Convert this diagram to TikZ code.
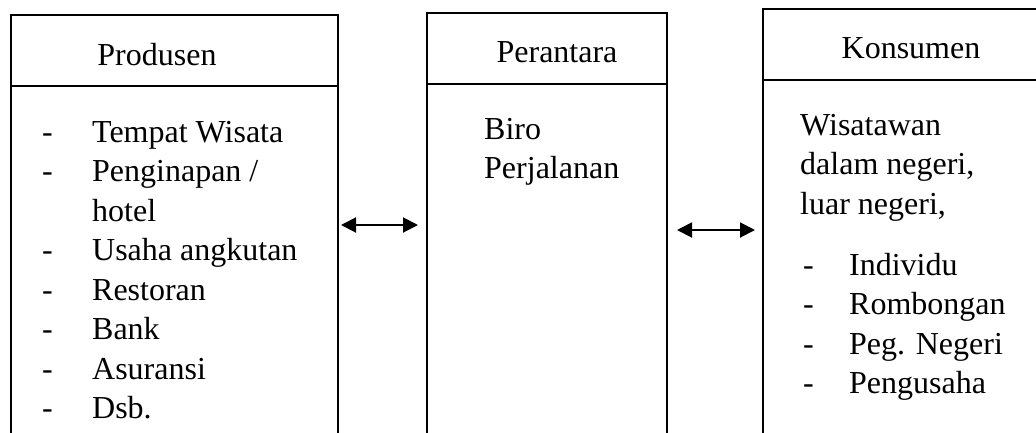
\documentclass[tikz,border=0pt]{standalone}
\usepackage{fontspec}
\setmainfont{Liberation Serif}
\usetikzlibrary{arrows.meta}
\begin{document}
\begin{tikzpicture}[x=1pt,y=-1pt,
  frame/.style={draw, line width=2pt, rectangle, inner sep=0pt, outer sep=0pt,
    minimum height=460pt, anchor=north west},
  headrule/.style={line width=1.3pt},
  bigtext/.style={inner sep=0pt, font=\fontsize{32}{39.5}\selectfont},
  title/.style={bigtext, anchor=base},
  body/.style={bigtext, anchor=base west},
  biarrow/.style={line width=2pt, {Triangle[length=15pt,width=15pt]}-{Triangle[length=15pt,width=15pt]}}]
\useasboundingbox (0,0) rectangle (1036,432);
\clip (0,0) rectangle (1036,432);

% three columns, running past the lower edge
\node[frame, minimum width=327pt] (prod) at (11,15) {};
\node[frame, minimum width=240pt] (peran) at (427,13) {};
\node[frame, minimum width=290pt] (kons) at (763,9) {};

% header separators
\draw[headrule] (prod.north west) ++(0,71) -- ++(327,0);
\draw[headrule] (peran.north west) ++(0,71) -- ++(240,0);
\draw[headrule] (kons.north west) ++(0,71) -- ++(290,0);

% headers
\node[title] (tprod) at (157,65) {Produsen};
\node[title] (tperan) at (557,62) {Perantara};
\node[title] (tkons) at (911,58) {Konsumen};

% producer list
\node[body] (lprod) at (42,142) {\begin{tabular}[t]{@{}p{50pt}@{}l@{}}
- & Tempat Wisata\\
- & Penginapan /\\
  & hotel\\
- & Usaha angkutan\\
- & Restoran\\
- & Bank\\
- & Asuransi\\
- & Dsb.
\end{tabular}};

% intermediary
\node[body] (lperan) at (484,139) {\begin{tabular}[t]{@{}l@{}}
Biro\\
Perjalanan
\end{tabular}};

% consumers
\node[body] (lkons) at (800,135) {\begin{tabular}[t]{@{}l@{}}
Wisatawan\\
dalam negeri,\\
luar negeri,
\end{tabular}};
\node[body] (lkons2) at (803,275) {\begin{tabular}[t]{@{}p{46pt}@{}l@{}}
- & Individu\\
- & Rombongan\\
- & Peg. Negeri\\
- & Pengusaha
\end{tabular}};

% two-way links
\coordinate (ya) at (0,225);
\coordinate (yb) at (0,230);
\draw[biarrow, shorten <=3pt, shorten >=9pt] (prod.east |- ya) -- (peran.west |- ya);
\draw[biarrow, shorten <=10pt, shorten >=8pt] (peran.east |- yb) -- (kons.west |- yb);
\end{tikzpicture}
\end{document}
